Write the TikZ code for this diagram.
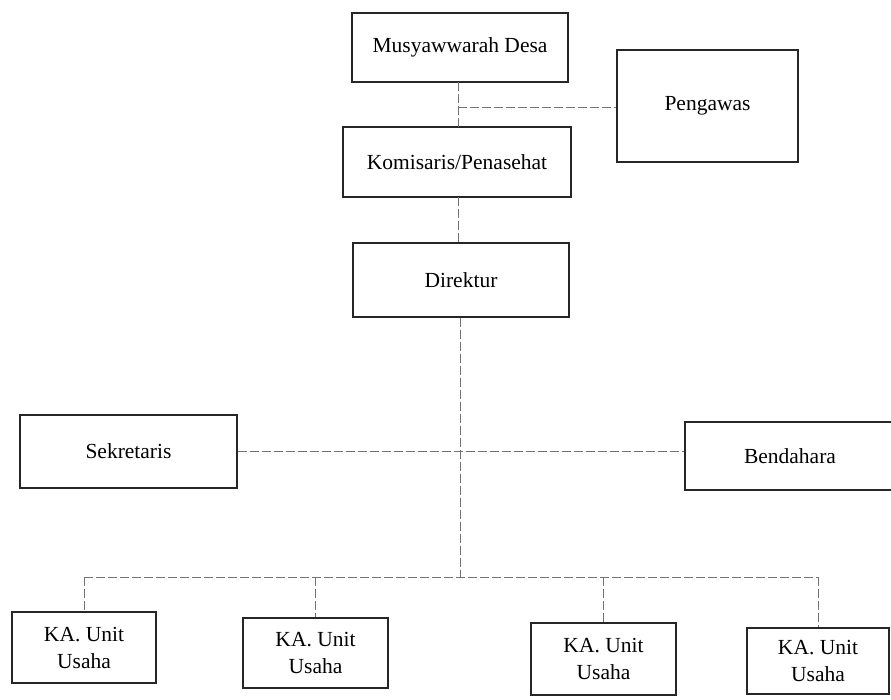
\documentclass[tikz,border=0pt]{standalone}
\usepackage{fontspec}
\setmainfont{Liberation Serif}
\begin{document}
\begin{tikzpicture}[x=1pt,y=-1pt,
  box/.style={draw=black!85, line width=1.3pt, rectangle, inner sep=0pt, align=center,
    font=\fontsize{21.5}{27}\selectfont},
  link/.style={draw=black!55, line width=0.8pt, dash pattern=on 9pt off 3pt}]
\useasboundingbox (0,0) rectangle (891,699);
\clip (0,0) rectangle (891,699);
% top part
\node[box, minimum width=216pt, minimum height=69pt] (mus) at (460,47.5) {Musyawwarah Desa};
\node[box, minimum width=181pt, minimum height=112pt] (peng) at (707.5,106) {Pengawas};
\node[box, minimum width=228pt, minimum height=70pt] (kom) at (457,162) {Komisaris/Penasehat};
\node[box, minimum width=216pt, minimum height=74pt] (dir) at (461,280) {Direktur};
% middle
\node[box, minimum width=217pt, minimum height=73pt] (sek) at (128.5,451.5) {Sekretaris};
\node[box, minimum width=210pt, minimum height=68pt] (ben) at (790,456) {Bendahara};
% bottom
\node[box, minimum width=144pt, minimum height=71pt] (ka1) at (84,647.5) {KA. Unit\\Usaha};
\node[box, minimum width=145pt, minimum height=70pt] (ka2) at (315.5,653) {KA. Unit\\Usaha};
\node[box, minimum width=145pt, minimum height=72pt] (ka3) at (603.5,659) {KA. Unit\\Usaha};
\node[box, minimum width=142pt, minimum height=66pt] (ka4) at (818,661) {KA. Unit\\Usaha};
% coordinates
\coordinate (j1) at (458,107);
\coordinate (bus) at (460,577);
% connectors
\draw[link] (458,82) -- (458,127);
\draw[link] (j1) -- (j1 -| peng.west);
\draw[link] (458,197) -- (458,243);
\draw[link] (dir.south -| bus) -- (bus);
\draw[link] (sek.east) -- (sek.east -| ben.west);
\draw[link] (ka1.north |- bus) -- (ka4.north |- bus);
\draw[link] (ka1.north |- bus) -- (ka1.north);
\draw[link] (ka2.north |- bus) -- (ka2.north);
\draw[link] (ka3.north |- bus) -- (ka3.north);
\draw[link] (ka4.north |- bus) -- (ka4.north);
\end{tikzpicture}
\end{document}
